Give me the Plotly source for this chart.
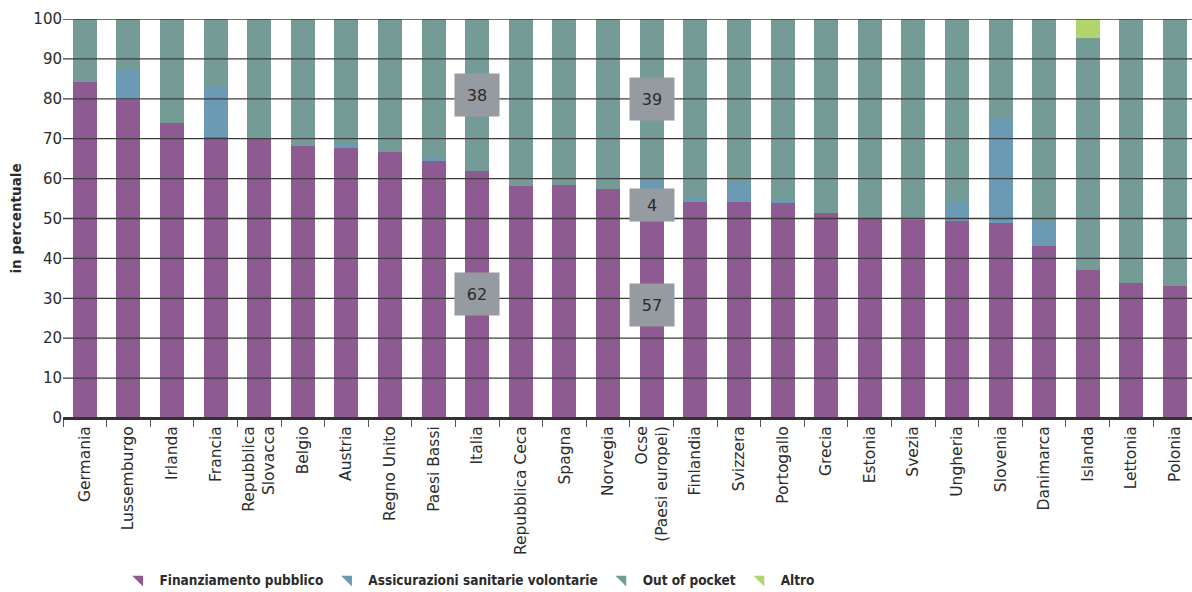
import plotly.graph_objects as go

countries = ["Germania", "Lussemburgo", "Irlanda", "Francia", "Repubblica<br>Slovacca", "Belgio",
             "Austria", "Regno Unito", "Paesi Bassi", "Italia", "Repubblica Ceca", "Spagna",
             "Norvegia", "Ocse<br>(Paesi europei)", "Finlandia", "Svizzera", "Portogallo", "Grecia",
             "Estonia", "Svezia", "Ungheria", "Slovenia", "Danimarca", "Islanda", "Lettonia", "Polonia"]

finanziamento_pubblico = [84.3, 79.7, 73.9, 70.4, 70.2, 68.2, 67.7, 66.7, 64.4, 62.0, 58.1, 58.4,
                          57.4, 56.5, 54.2, 54.2, 53.9, 51.5, 49.8, 49.6, 49.4, 48.9, 43.1, 37.1, 33.8, 33.1]
assicurazioni_volontarie = [0.0, 7.4, 0.0, 12.8, 0.0, 0.0, 1.0, 0.0, 0.9, 0.0, 0.0, 0.0,
                            0.0, 3.6, 0.9, 4.9, 0.9, 0.0, 0.0, 0.0, 4.8, 26.3, 6.3, 0.0, 0.0, 0.0]
out_of_pocket = [15.7, 12.9, 26.1, 16.8, 29.8, 31.8, 31.3, 33.3, 34.7, 38.0, 41.9, 41.6,
                 42.6, 39.9, 44.9, 40.9, 45.2, 48.5, 50.2, 50.4, 45.8, 24.8, 50.6, 58.1, 66.2, 66.9]
altro = [0.0, 0.0, 0.0, 0.0, 0.0, 0.0, 0.0, 0.0, 0.0, 0.0, 0.0, 0.0,
         0.0, 0.0, 0.0, 0.0, 0.0, 0.0, 0.0, 0.0, 0.0, 0.0, 0.0, 4.8, 0.0, 0.0]

series_names = ["Finanziamento pubblico", "Assicurazioni sanitarie volontarie", "Out of pocket", "Altro"]

# highlighted value boxes
label_countries = ["Italia", "Italia", "Ocse<br>(Paesi europei)", "Ocse<br>(Paesi europei)", "Ocse<br>(Paesi europei)"]
label_series = [2, 0, 2, 1, 0]
label_texts = ["38", "62", "39", "4", "57"]

y_ticks = [0, 10, 20, 30, 40, 50, 60, 70, 80, 90, 100]

colors = ["#8D5A91", "#6B9AB5", "#749B95", "#B1D46D"]
FONT = "DejaVu Sans, Verdana, sans-serif"
LEG_FONT = "DejaVu Sans Condensed, Liberation Sans Narrow, sans-serif"
TEXT = "#2b2b2b"

series_values = [finanziamento_pubblico, assicurazioni_volontarie, out_of_pocket, altro]

fig = go.Figure()
for name, vals, col in zip(series_names, series_values, colors):
    fig.add_trace(go.Bar(x=countries, y=vals, name=name, marker=dict(color=col, line=dict(width=0)),
                         showlegend=False, hoverinfo="x+y+name"))
# legend entries with triangular glyphs
for name, col in zip(series_names, colors):
    fig.add_trace(go.Scatter(x=[None], y=[None], mode="markers", name=name,
                             marker=dict(symbol="triangle-ne", size=12, color=col), showlegend=True))

# gridlines drawn above the bars
shapes = []
for t in y_ticks:
    shapes.append(dict(type="line", xref="paper", yref="y", x0=0, x1=1, y0=t, y1=t,
                       line=dict(color="#3d3d3d" if t > 0 else "#333333", width=1.3 if t > 0 else 2),
                       layer="above"))

annotations = []
for c, s, txt in zip(label_countries, label_series, label_texts):
    i = countries.index(c)
    base = sum(series_values[k][i] for k in range(s))
    seg = series_values[s][i]
    if seg < 8:
        yc = base + seg / 2 - 5
        h = 32
    else:
        yc = base + seg / 2
        h = 42
    annotations.append(dict(x=c, y=yc, xref="x", yref="y", text=txt, showarrow=False,
                            bgcolor="#959BA0", width=44, height=h, borderpad=0,
                            font=dict(family=FONT, size=16, color=TEXT), valign="middle"))

fig.update_layout(
    width=1192, height=592,
    margin=dict(l=63, r=0, t=19, b=174, autoexpand=False),
    barmode="stack", bargap=0.45,
    plot_bgcolor="white", paper_bgcolor="white",
    font=dict(family=FONT, color=TEXT),
    shapes=shapes, annotations=annotations,
    legend=dict(orientation="h", traceorder="normal", x=0.36, xanchor="center", y=-0.405, yanchor="middle",
                font=dict(family=LEG_FONT, size=13.5, color=TEXT, weight=600), itemwidth=30,
                tracegroupgap=0),
    xaxis=dict(type="category", range=[-0.5, 25.39], tickangle=-90, showgrid=False, automargin=False,
               ticks="outside", tickson="boundaries", ticklen=7, tickcolor="#555555", tickwidth=1,
               showline=True, linecolor="#333333", linewidth=2,
               tickfont=dict(family=FONT, size=15.5, color=TEXT)),
    yaxis=dict(range=[0, 100], tickvals=y_ticks, showgrid=False, zeroline=False, showline=False,
               ticks="", automargin=False, tickfont=dict(family=FONT, size=15, color=TEXT),
               title=dict(text="in percentuale", font=dict(family=FONT, size=13.5, color=TEXT, weight=600),
                          standoff=8)),
)

fig.write_html("out.html")
